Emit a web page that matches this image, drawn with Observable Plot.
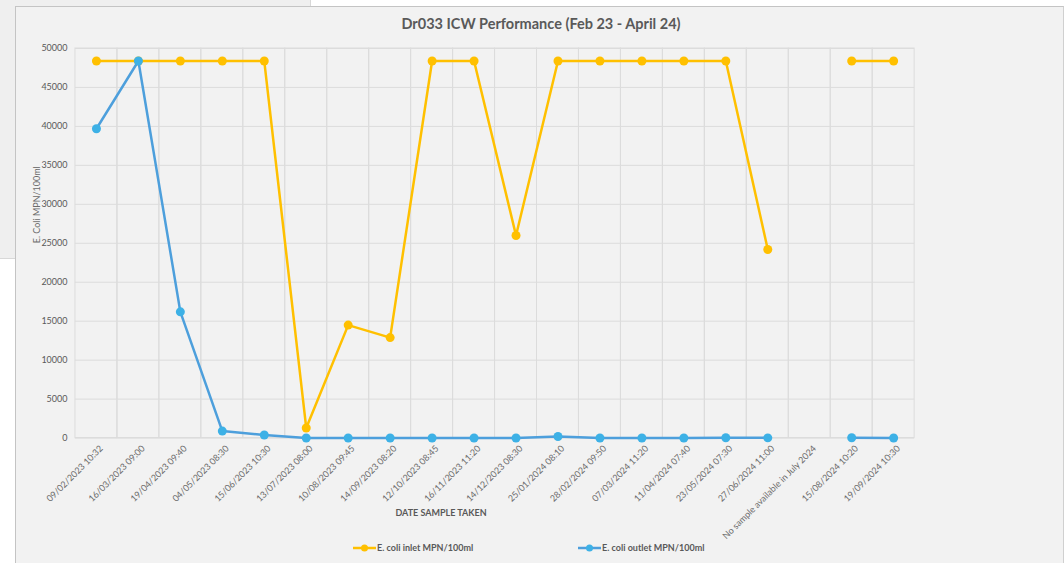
<!DOCTYPE html>
<html>
<head>
<meta charset="utf-8">
<script src="https://cdn.jsdelivr.net/npm/d3@7"></script>
<script src="https://cdn.jsdelivr.net/npm/@observablehq/plot@0.6"></script>
<style>
  html, body { margin: 0; padding: 0; background: #ffffff; width: 1064px; height: 563px; overflow: hidden; font-family: Lato, "Open Sans", sans-serif; }
  #behind { position: absolute; left: 0; top: 0; width: 310px; height: 258px; background: #efefef; border-right: 1px solid #d8d8d8; border-bottom: 1px solid #d8d8d8; overflow: hidden; }
  #frame { position: absolute; left: 15px; top: 6px; width: 1047px; height: 557px; background: #f2f2f2; border-top: 1px solid #c4c4c4; border-left: 1px solid #c4c4c4; border-right: 1px solid #d0d0d0; overflow: hidden; }
  #title { position: absolute; left: 0; top: 8px; width: 1050px; text-align: center; font-weight: bold; font-size: 14.5px; color: #595959; }
  #chart { position: absolute; left: -1px; top: 30px; }
  #xlabel { position: absolute; left: 340px; top: 500px; width: 170px; text-align: center; font-weight: bold; font-size: 9px; color: #595959; }
  .leg { position: absolute; top: 535px; font-weight: bold; font-size: 9px; color: #595959; display: flex; align-items: center; }
  .leg svg { margin-right: 1px; }
</style>
</head>
<body>
<div id="behind"></div>
<div id="frame">
  <div id="title">Dr033 ICW Performance (Feb 23 - April 24)</div>
  <div id="chart"></div>
  <div id="xlabel">DATE SAMPLE TAKEN</div>
  <div class="leg" id="leg1" style="left:337px;"></div>
  <div class="leg" id="leg2" style="left:562px;"></div>
</div>
<script>
const dates = [
  "09/02/2023 10:32", "16/03/2023 09:00", "19/04/2023 09:40", "04/05/2023 08:30",
  "15/06/2023 10:30", "13/07/2023 08:00", "10/08/2023 09:45", "14/09/2023 08:20",
  "12/10/2023 08:45", "16/11/2023 11:20", "14/12/2023 08:30", "25/01/2024 08:10",
  "28/02/2024 09:50", "07/03/2024 11:20", "11/04/2024 07:40", "23/05/2024 07:30",
  "27/06/2024 11:00", "No sample available in July 2024", "15/08/2024 10:20", "19/09/2024 10:30"
];
const inlet = [48392, 48392, 48392, 48392, 48392, 1300, 14500, 12900, 48392, 48392,
  26000, 48392, 48392, 48392, 48392, 48392, 24200, null, 48392, 48392];
const outlet = [39700, 48392, 16200, 900, 400, 10, 10, 10, 10, 10,
  10, 200, 10, 10, 10, 50, 30, null, 50, 20];
const yTicks = [0, 5000, 10000, 15000, 20000, 25000, 30000, 35000, 40000, 45000, 50000];
const seriesNames = ["E. coli inlet MPN/100ml", "E. coli outlet MPN/100ml"];
const yLabel = "E. Coli MPN/100ml";

const inletColor = "#FFC000";
const outletLine = "#4d9fdc";
const outletDot = "#3db1e6";

const inletData = dates.map((d, i) => ({date: d, v: inlet[i]}));
const outletData = dates.map((d, i) => ({date: d, v: outlet[i]}));

const chart = Plot.plot({
  width: 1049,
  height: 525,
  marginLeft: 60,
  marginRight: 149,
  marginTop: 11,
  marginBottom: 124,
  style: {background: "transparent", fontFamily: "Lato, 'Open Sans', sans-serif", color: "#595959", overflow: "visible"},
  x: {type: "band", domain: dates, padding: 0},
  y: {domain: [0, 50000]},
  marks: [
    Plot.cell(dates, {x: d => d, fill: "none", stroke: "#dcdcdc", strokeWidth: 1, inset: 0}),
    Plot.gridY(yTicks, {stroke: "#dcdcdc", strokeOpacity: 1, strokeWidth: 1}),
    Plot.axisY(yTicks, {tickSize: 0, tickPadding: 8, tickFormat: d => String(d), fontSize: 9, fill: "#595959", label: null}),
    Plot.axisX({tickSize: 0, tickPadding: 9, tickRotate: -45, fontSize: 9, fill: "#6b6b6b", label: null, dx: 5}),
    Plot.text([yLabel], {frameAnchor: "left", rotate: -90, dx: -38, fontSize: 9, fill: "#6b6b6b"}),
    Plot.line(inletData, {x: "date", y: "v", stroke: inletColor, strokeWidth: 2.5}),
    Plot.dot(inletData, {x: "date", y: "v", fill: inletColor, r: 4.5, filter: d => d.v != null}),
    Plot.line(outletData, {x: "date", y: "v", stroke: outletLine, strokeWidth: 2.5}),
    Plot.dot(outletData, {x: "date", y: "v", fill: outletDot, r: 4.5, filter: d => d.v != null})
  ]
});
document.getElementById("chart").appendChild(chart);

function legendItem(el, lineColor, dotColor, text) {
  el.innerHTML = `<svg width="23" height="10"><line x1="0" y1="5" x2="23" y2="5" stroke="${lineColor}" stroke-width="2.5"/><circle cx="11.5" cy="5" r="3.5" fill="${dotColor}"/></svg><span>${text}</span>`;
}
legendItem(document.getElementById("leg1"), inletColor, inletColor, seriesNames[0]);
legendItem(document.getElementById("leg2"), outletLine, outletDot, seriesNames[1]);
</script>
</body>
</html>
